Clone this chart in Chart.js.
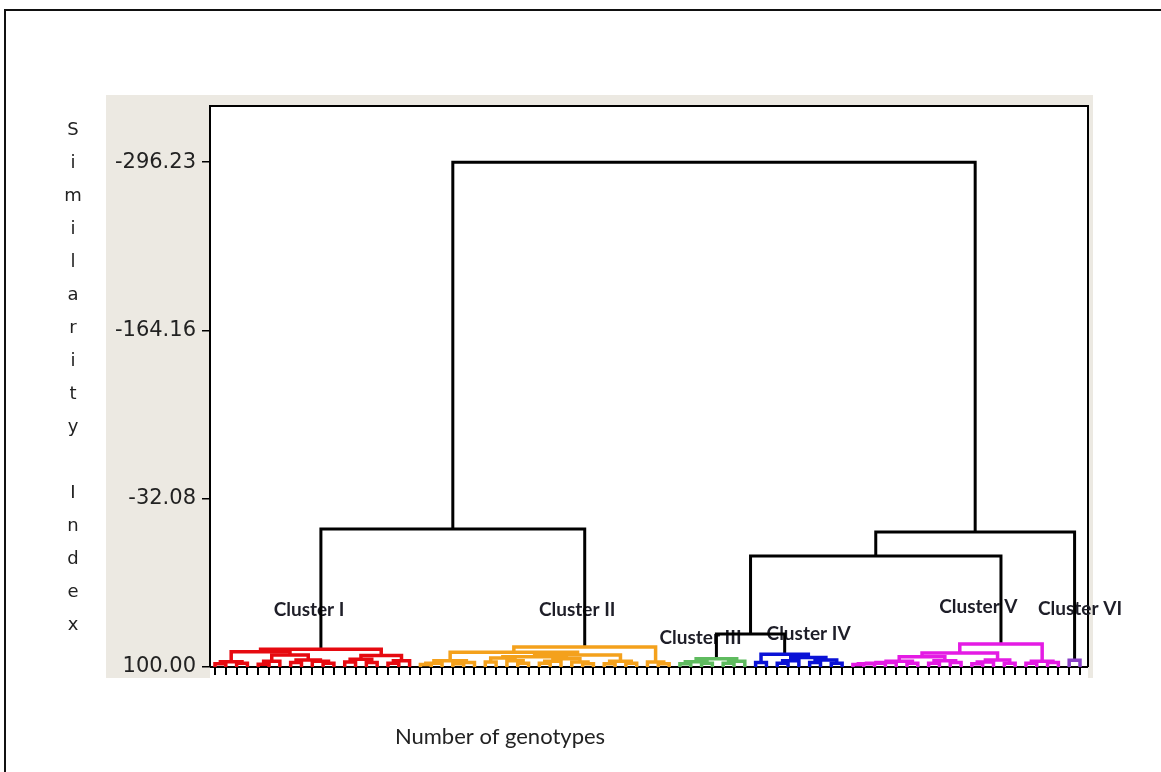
<!DOCTYPE html>
<html>
<head>
<meta charset="utf-8">
<script src="https://cdn.jsdelivr.net/npm/chart.js@4.4.1/dist/chart.umd.min.js"></script>
<style>
html,body{margin:0;padding:0;background:#fff;overflow:hidden}
canvas{display:block}
</style>
</head>
<body>
<canvas id="c" width="1161" height="772"></canvas>
<script>
// ---- DATA ----------------------------------------------------------
// Each merge: [similarity, left, right]; 1 = one genotype (leaf)
const clusterI = [86,
  [88,
    [95.8, [97.5, 1, 1], [97, 1, 1]],
    [90.5,
      [95.5, [97.8, 1, 1], 1],
      [94.5, [96.5, 1, 1], [95.5, 1, [97, 1, 1]]]
    ]
  ],
  [91,
    [94, [96, 1, 1], [96.5, 1, 1]],
    [95, [97, 1, 1], 1]
  ]
];
const clusterII = [84.4,
  [88.5,
    [95, [97, [98, 1, 1], 1], [96.5, [97.5, 1, 1], 1]],
    [90.5,
      [92,
        [93, [96, 1, 1], [95, 1, [97, 1, 1]]],
        [93.5, [95.5, [97, 1, 1], 1], [96, 1, [97.5, 1, 1]]]
      ],
      [95.5, [97.5, 1, 1], [97, 1, 1]]
    ]
  ],
  [96, 1, [97.5, 1, 1]]
];
const clusterIII = [93.5, [95.8, [97.5, 1, 1], [97, 1, 1]], [95.5, [97, 1, 1], 1]];
const clusterIV = [90, [96.5, 1, 1], [92.5, [95, [97, 1, 1], 1], [94.5, [96.5, 1, 1], [97, 1, 1]]]];
const clusterV = [82,
  [89,
    [92,
      [95.5, [96.5, [97, [97.5, [98, 1, 1], 1], 1], 1], [97, 1, 1]],
      [95, [97, 1, 1], [96.5, 1, 1]]
    ],
    [94.5, [96, [97.5, 1, 1], 1], [97, 1, 1]]
  ],
  [95.5, [97, 1, 1], [96.5, 1, 1]]
];
const clusterVI = [94.8, 1, 1];
// links between clusters
const upperTree = [-296.23, [-8.3, 'I', 'II'], [-5.9, [12.9, [74.1, 'III', 'IV'], 'V'], 'VI']];
const clusterNames = ['I', 'II', 'III', 'IV', 'V', 'VI'];
const clusterLabels = ['Cluster I', 'Cluster II', 'Cluster III', 'Cluster IV', 'Cluster V', 'Cluster VI'];
const yTickValues = [-296.23, -164.16, -32.08, 100.00];
const leafSimilarity = 100;
const yTitle = 'Similarity Index';
const xTitle = 'Number of genotypes';

// ---- STYLE ---------------------------------------------------------
const clusterTrees = {I: clusterI, II: clusterII, III: clusterIII, IV: clusterIV, V: clusterV, VI: clusterVI};
const clusterColors = {I: '#e60a10', II: '#f4a11c', III: '#5fbb5f', IV: '#0a12d6', V: '#e41be4', VI: '#8a40c8'};
// label anchors (leaf units, similarity units)
const labelAnchor = {I: [8.7, 55.3], II: [33.5, 55.3], III: [44.9, 77.2], IV: [54.9, 74.1], V: [70.6, 52.9], VI: [80.0, 54.5]};

// ---- LAYOUT (dendrogram geometry from merges) ----------------------
let leafCount = 0;
const segments = [];
function layout(node, color) {
  if (typeof node === 'number') { return {x: leafCount++, h: leafSimilarity}; }
  if (typeof node === 'string') { return layout(clusterTrees[node], clusterColors[node]); }
  const [h, l, r] = node;
  const a = layout(l, color), b = layout(r, color);
  segments.push({color, pts: [{x: a.x, y: a.h}, {x: a.x, y: h}, {x: b.x, y: h}, {x: b.x, y: b.h}]});
  return {x: (a.x + b.x) / 2, h};
}
layout(upperTree, '#000');
const leafTicks = Array.from({length: leafCount}, (_, i) => ({value: i}));

const datasets = segments.map(s => ({
  data: s.pts, borderColor: s.color, backgroundColor: s.color,
  borderWidth: s.color === '#000' ? 3 : 3.5,
  pointRadius: 0, showLine: true, fill: false, tension: 0
}));

const decor = {
  id: 'decor',
  beforeDraw(chart) {
    const c = chart.ctx, a = chart.chartArea;
    c.save();
    c.fillStyle = '#fff'; c.fillRect(0, 0, chart.width, chart.height);
    c.strokeStyle = '#111'; c.lineWidth = 2;
    c.beginPath(); c.moveTo(5, chart.height); c.lineTo(5, 10); c.lineTo(chart.width, 10); c.stroke();
    c.fillStyle = '#ece9e2'; c.fillRect(106, 95, a.right + 5 - 106, a.bottom + 11 - 95);
    c.fillStyle = '#fff'; c.fillRect(a.left, a.top, a.right - a.left, a.bottom + 11 - a.top);
    c.restore();
  },
  beforeDatasetsDraw(chart) {
    const c = chart.ctx, a = chart.chartArea, xs = chart.scales.x, ys = chart.scales.y;
    c.save();
    c.strokeStyle = '#000'; c.lineWidth = 2;
    c.beginPath();
    c.moveTo(a.left, a.bottom); c.lineTo(a.left, a.top); c.lineTo(a.right, a.top); c.lineTo(a.right, a.bottom);
    c.moveTo(a.left, a.bottom); c.lineTo(a.right, a.bottom);
    c.stroke();
    c.fillStyle = '#1e1e28';
    c.font = 'bold 19px Lato, "Liberation Sans", sans-serif';
    c.textAlign = 'center'; c.textBaseline = 'middle';
    clusterNames.forEach((n, i) => {
      const [lx, ly] = labelAnchor[n];
      c.fillText(clusterLabels[i], xs.getPixelForValue(lx), ys.getPixelForValue(ly));
    });
    c.restore();
  },
  afterDraw(chart) {
    const c = chart.ctx;
    c.save();
    c.fillStyle = '#222';
    c.font = '18px "DejaVu Sans", sans-serif';
    c.textAlign = 'center'; c.textBaseline = 'middle';
    [...yTitle].forEach((ch, i) => { if (ch !== ' ') c.fillText(ch, 73, 130 + i * 33); });
    c.font = '22px Lato, "Open Sans", sans-serif';
    c.textBaseline = 'alphabetic';
    c.fillText(xTitle, 500, 744);
    c.restore();
  }
};

new Chart(document.getElementById('c'), {
  type: 'scatter',
  data: {datasets},
  options: {
    responsive: false, animation: false, devicePixelRatio: 1,
    layout: {padding: {left: 0, right: 73, top: 106, bottom: 0}},
    plugins: {legend: {display: false}, tooltip: {enabled: false}},
    scales: {
      x: {
        type: 'linear', min: -0.46, max: leafCount - 1 + 0.74,
        afterBuildTicks: s => { s.ticks = leafTicks.map(t => ({...t})); },
        afterFit: s => { s.height = 105; },
        ticks: {display: false, autoSkip: false},
        grid: {display: true, drawOnChartArea: false, drawTicks: true, tickLength: 8, color: '#000', lineWidth: 2},
        border: {display: false}
      },
      y: {
        type: 'linear', reverse: true, min: -340.3, max: 100,
        afterBuildTicks: s => { s.ticks = yTickValues.map(v => ({value: v})); },
        afterFit: s => { s.width = 210; },
        ticks: {
          autoSkip: false, padding: 6, color: '#222',
          font: {family: '"DejaVu Sans", sans-serif', size: 21},
          callback: v => Number(v).toFixed(2)
        },
        grid: {display: true, drawOnChartArea: false, drawTicks: true, tickLength: 8, color: '#000', lineWidth: 1.5},
        border: {display: false}
      }
    }
  },
  plugins: [decor]
});
</script>
</body>
</html>
